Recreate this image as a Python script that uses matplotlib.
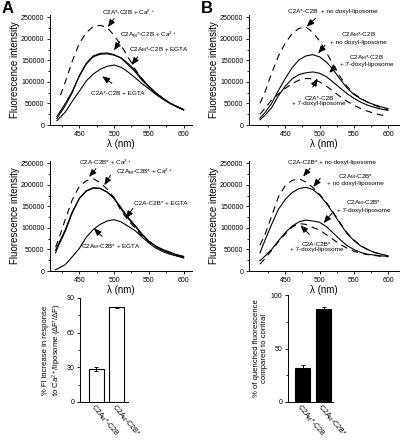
import numpy as np
import matplotlib
matplotlib.use("Agg")
import matplotlib.pyplot as plt
from matplotlib.ticker import MultipleLocator, FixedLocator

plt.rcParams['font.family'] = ['Liberation Sans', 'DejaVu Sans']
plt.rcParams['mathtext.fontset'] = 'custom'
plt.rcParams['mathtext.rm'] = 'Liberation Sans'
plt.rcParams['mathtext.it'] = 'Liberation Sans:italic'

# ---- data (wavelength nm, fluorescence intensity) ----
wl_a = [418, 430, 440, 450, 460, 470, 480, 490, 500, 510, 520, 530, 540, 550, 560, 570, 580, 590, 600]
wl_a_dash = [423, 430, 440, 450, 460, 470, 480, 490, 500, 510, 520, 530, 540, 550, 560, 570, 580, 590, 600]
a1_wt_ca = [69000, 100000, 148000, 189000, 214000, 228000, 231000, 226000, 208000, 185000, 158000, 130000, 108000, 89000, 74000, 62000, 51000, 43000, 36000]
a1_m_ca = [15000, 45000, 75000, 114000, 143000, 160000, 166000, 167000, 163000, 155000, 140000, 124000, 104000, 88000, 74000, 62000, 51000, 43000, 36000]
a1_m_egta = [20000, 50000, 78000, 113000, 141000, 158000, 164000, 165000, 162000, 156000, 143000, 127000, 107000, 90000, 75000, 62000, 51000, 43000, 35000]
a1_wt_egta = [10000, 30000, 55000, 78000, 102000, 118000, 129000, 136000, 139000, 134000, 123000, 110000, 96000, 84000, 71000, 60000, 50000, 42000, 35000]

wl_a2 = [416, 420, 430, 440, 450, 460, 470, 480, 490, 500, 510, 520, 530, 540, 550, 560, 570, 580, 590, 600]
a2_wt_ca = [55000, 72000, 120000, 165000, 196000, 209000, 214000, 205000, 190000, 170000, 140000, 118000, 100000, 82000, 67000, 56000, 48000, 42000, 37000, 33000]
a2_m_ca = [42000, 58000, 92000, 135000, 168000, 186000, 193000, 192000, 183000, 168000, 144000, 122000, 104000, 85000, 69000, 58000, 50000, 44000, 38000, 34000]
a2_wt_egta = [48000, 62000, 96000, 137000, 168000, 185000, 192000, 191000, 183000, 169000, 147000, 125000, 106000, 86000, 69000, 57000, 48000, 41000, 35000, 30000]
a2_m_egta = [3000, 6000, 15000, 33000, 52000, 78000, 96000, 108000, 116000, 119000, 114000, 104000, 94000, 79000, 65000, 53000, 45000, 39000, 35000, 32000]

wl_b = [413, 420, 430, 440, 450, 460, 470, 480, 490, 500, 510, 520, 530, 540, 550, 560, 570, 580, 590, 600]
b1_wt_no = [50000, 75000, 120000, 160000, 190000, 212000, 224000, 227000, 215000, 195000, 168000, 140000, 112000, 90000, 73000, 62000, 53000, 46000, 40000, 35000]
b1_m_no = [16000, 28000, 50000, 80000, 108000, 133000, 151000, 160000, 163000, 158000, 146000, 128000, 106000, 86000, 71000, 61000, 53000, 47000, 42000, 38000]
b1_m_7 = [12000, 22000, 40000, 68000, 90000, 107000, 117000, 121000, 123000, 120000, 112000, 99000, 86000, 73000, 62000, 53000, 46000, 41000, 37000, 34000]
b1_wt_7 = [25000, 38000, 58000, 72000, 85000, 96000, 104000, 108000, 107000, 100000, 90000, 78000, 66000, 55000, 46000, 38000, 32000, 27000, 23000, 20000]

b2_wt_no = [60000, 83000, 127000, 172000, 198000, 210000, 214000, 206000, 194000, 178000, 159000, 136000, 112000, 89000, 72000, 59000, 50000, 43000, 39000, 35000]
b2_m_no = [42000, 70000, 108000, 143000, 166000, 182000, 191000, 194000, 189000, 176000, 157000, 134000, 110000, 87000, 71000, 58000, 50000, 43000, 39000, 35000]
b2_m_7 = [24000, 34000, 50000, 70000, 89000, 104000, 114000, 118000, 116000, 113000, 103000, 88000, 73000, 59000, 50000, 43000, 39000, 37000, 35000, 34000]
b2_wt_7 = [16000, 28000, 48000, 68000, 86000, 102000, 110000, 108000, 101000, 95000, 84000, 73000, 62000, 53000, 46000, 41000, 38000, 36000, 34000, 33000]

# ---- bar data ----
bar_labels = [r'C2A$_{\rm M}$*-C2B', r'C2A$_{\rm M}$-C2B*']
bar_a = [28.5, 82]
bar_a_err = [1.5, 0.6]
bar_b = [32, 87]
bar_b_err = [2.5, 1.5]

W, H = 400, 442
fig = plt.figure(figsize=(4, 4.42), dpi=100)


def box(l, t, w, h):
    return [l / W, 1 - (t + h) / H, w / W, h / H]


def spectrum_axes(rect, xlim):
    ax = fig.add_axes(rect)
    ax.set_xlim(*xlim)
    ax.set_ylim(0, 255000)
    for s in ['top', 'right']:
        ax.spines[s].set_visible(False)
    for s in ['left', 'bottom']:
        ax.spines[s].set_linewidth(0.7)
    ax.xaxis.set_major_locator(FixedLocator([450, 500, 550, 600]))
    ax.xaxis.set_minor_locator(FixedLocator([425, 475, 525, 575]))
    ax.yaxis.set_major_locator(MultipleLocator(50000))
    ax.yaxis.set_minor_locator(MultipleLocator(25000))
    ax.ticklabel_format(axis='y', style='plain')
    ax.tick_params(which='both', direction='out', labelsize=5, width=0.6, pad=1.5)
    ax.tick_params(which='major', length=2.5)
    ax.tick_params(which='minor', length=1.5)
    ax.set_xlabel(u'\u03bb (nm)', fontsize=7, labelpad=1)
    ax.set_ylabel('Fluorescence intensity', fontsize=7, labelpad=1)
    return ax


def solid(ax, x, y):
    ax.plot(x, y, color='k', lw=0.8)


def dashed(ax, x, y):
    ax.plot(x, y, color='k', lw=0.8, dashes=(6, 4.5))


def note(ax, x, y, s):
    ax.text(x, y, s, fontsize=4.6, ha='center', va='center', linespacing=1.1)


def arrow(ax, tail, tip):
    ax.annotate('', xy=tip, xytext=tail,
                arrowprops=dict(arrowstyle='-|>,head_length=0.45,head_width=0.18',
                                lw=0.7, color='k', shrinkA=0, shrinkB=0))


# panel A top
ax = spectrum_axes(box(50, 15, 142, 110), (408, 612))
dashed(ax, wl_a_dash, a1_wt_ca)
solid(ax, wl_a, a1_m_ca)
solid(ax, wl_a, a1_m_egta)
solid(ax, wl_a, a1_wt_egta)
note(ax, 521, 262000, r'C2A*-C2B + Ca$^{2+}$')
arrow(ax, (500, 247000), (491, 227000))
note(ax, 549, 208000, r'C2A$_{\rm M}$*-C2B + Ca$^{2+}$')
arrow(ax, (508, 193000), (500, 173000))
note(ax, 564, 175000, r'C2A$_{\rm M}$*-C2B + EGTA')
arrow(ax, (534, 158000), (525, 139000))
note(ax, 506, 73000, 'C2A*-C2B + EGTA')
arrow(ax, (497, 96500), (483, 113000))

# panel A middle
ax = spectrum_axes(box(50, 161, 142, 110), (408, 612))
dashed(ax, wl_a2, a2_wt_ca)
solid(ax, wl_a2, a2_m_ca)
solid(ax, wl_a2, a2_wt_egta)
solid(ax, wl_a2, a2_m_egta)
note(ax, 488, 253000, r'C2A-C2B* + Ca$^{2+}$')
arrow(ax, (474, 237000), (464, 218000))
note(ax, 543, 230000, r'C2A$_{\rm M}$-C2B* + Ca$^{2+}$')
arrow(ax, (495, 222000), (486, 199000))
note(ax, 567, 157000, 'C2A-C2B* + EGTA')
arrow(ax, (527, 145000), (517, 122000))
note(ax, 496, 56000, r'C2A$_{\rm M}$-C2B* + EGTA')
arrow(ax, (483, 80000), (471, 99000))

# panel B top
ax = spectrum_axes(box(249, 15, 150, 110), (397, 616))
dashed(ax, wl_b, b1_wt_no)
solid(ax, wl_b, b1_m_no)
solid(ax, wl_b, b1_m_7)
dashed(ax, wl_b, b1_wt_7)
note(ax, 519, 262000, 'C2A*-C2B  + no doxyl-liposome')
arrow(ax, (494, 247000), (481, 228000))
note(ax, 557, 203000, 'C2A$_{\\rm M}$*-C2B\n+ no doxyl-liposome')
arrow(ax, (508, 185000), (498, 166000))
note(ax, 569, 150000, 'C2A$_{\\rm M}$*-C2B\n+ 7-doxyl-liposome')
arrow(ax, (523, 135000), (514, 121000))
note(ax, 499, 55000, 'C2A*-C2B\n+ 7-doxyl-liposome')
arrow(ax, (490, 88000), (497, 108000))

# panel B middle
ax = spectrum_axes(box(249, 161, 150, 110), (397, 616))
dashed(ax, wl_b, b2_wt_no)
solid(ax, wl_b, b2_m_no)
solid(ax, wl_b, b2_m_7)
dashed(ax, wl_b, b2_wt_7)
note(ax, 518, 252000, 'C2A-C2B* + no doxyl-liposome')
arrow(ax, (486, 238000), (476, 219000))
note(ax, 552, 213000, 'C2A$_{\\rm M}$-C2B*\n+ no doxyl-liposome')
arrow(ax, (501, 215000), (491, 195000))
note(ax, 564, 152000, 'C2A$_{\\rm M}$-C2B*\n+ 7-doxyl-liposome')
arrow(ax, (518, 134000), (506, 111000))
note(ax, 496, 56000, 'C2A-C2B*\n+ 7-doxyl-liposome')
arrow(ax, (485, 85000), (472, 106000))


def bar_axes(rect, vals, errs, color, ymax, major, minor, ylabel, xlim):
    ax = fig.add_axes(rect)
    x = np.arange(len(vals))
    ax.bar(x, vals, width=0.72, color=color, edgecolor='k', linewidth=0.8,
           yerr=errs, capsize=1.5, error_kw=dict(elinewidth=0.7, capthick=0.7))
    ax.set_xlim(*xlim)
    ax.set_ylim(0, ymax)
    for s in ['top', 'right']:
        ax.spines[s].set_visible(False)
    for s in ['left', 'bottom']:
        ax.spines[s].set_linewidth(0.7)
    ax.yaxis.set_major_locator(MultipleLocator(major))
    ax.yaxis.set_minor_locator(MultipleLocator(minor))
    ax.set_xticks(x - 0.2)
    ax.set_xticklabels(bar_labels, rotation=-50, ha='left', va='center',
                       rotation_mode='anchor', fontsize=5.1)
    ax.tick_params(axis='x', length=0, pad=3)
    ax.tick_params(axis='y', which='both', direction='out', labelsize=5, width=0.6, pad=1.5)
    ax.tick_params(axis='y', which='major', length=2.5)
    ax.tick_params(axis='y', which='minor', length=1.5)
    ax.set_ylabel(ylabel, fontsize=5.6, labelpad=2, linespacing=1.15)
    return ax


bar_axes(box(80, 298, 48, 104), bar_a, bar_a_err, 'white', 90, 30, 15,
         "% Fl increase in response\nto Ca$^{2+}$/liposome (\u0394F'/\u0394F)", (-0.8, 1.55))
bar_axes(box(288, 295, 45, 107), bar_b, bar_b_err, 'black', 100, 50, 25,
         '% of quenched fluorescence\ncompared to contral', (-0.69, 1.45))

fig.text(2 / W, 1 - 1 / H, 'A', fontsize=12, fontweight='bold', va='top', ha='left')
fig.text(201 / W, 1 - 1 / H, 'B', fontsize=12, fontweight='bold', va='top', ha='left')

fig.savefig('out.png', dpi=100)
